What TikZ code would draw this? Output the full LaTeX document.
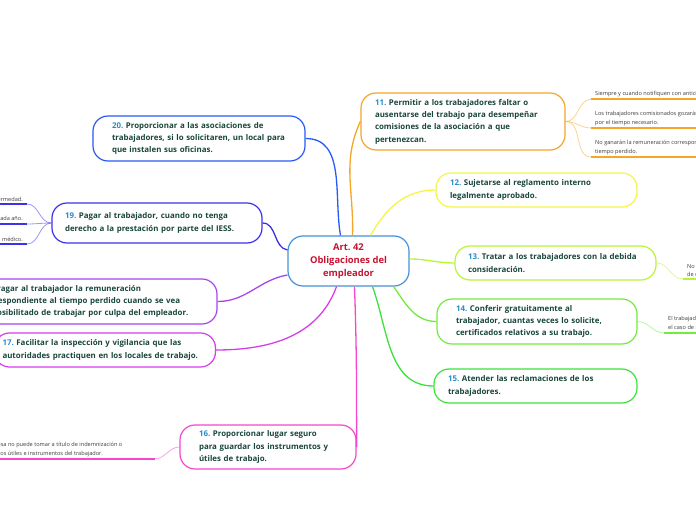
\documentclass[tikz,border=0pt]{standalone}
\usepackage{fontspec}
\setmainfont{Open Sans}
\usetikzlibrary{positioning}
\definecolor{artline}{RGB}{70,145,215}
\definecolor{artred}{RGB}{200,20,50}
\definecolor{txtgreen}{RGB}{25,70,60}
\definecolor{nroblue}{RGB}{40,140,200}
\definecolor{leafgray}{RGB}{60,60,60}
\definecolor{cXI}{RGB}{245,165,40}
\definecolor{cXII}{RGB}{245,245,70}
\definecolor{cXIII}{RGB}{185,245,50}
\definecolor{cXIV}{RGB}{115,235,60}
\definecolor{cXV}{RGB}{60,225,60}
\definecolor{cXVI}{RGB}{245,70,205}
\definecolor{cXVII}{RGB}{215,60,235}
\definecolor{cXVIII}{RGB}{165,70,240}
\definecolor{cXIX}{RGB}{60,50,235}
\definecolor{cXX}{RGB}{40,90,245}
\newcommand{\nro}[1]{{\color{nroblue}#1}}
\frenchspacing
\hyphenpenalty=10000

\begin{document}
\begin{tikzpicture}[x=1pt, y=1pt,
	box/.style={draw, rounded corners=15pt, line width=1.2pt, fill=white, align=left, text=txtgreen,
		font=\fontsize{7.9}{12.3}\selectfont\bfseries, inner ysep=0pt},
	leaf/.style={font=\fontsize{5.6}{8.6}\selectfont, text=leafgray, align=left, inner xsep=4pt, inner ysep=2pt},
	link/.style={line width=1.3pt},
	twig/.style={line width=0.8pt, opacity=0.5},
	uline/.style={line width=2pt}]
	\useasboundingbox (0,0) rectangle (696,520);
	% centre
	\node[box, draw=artline, text=artred, align=center, minimum width=121pt, minimum height=50pt,
		font=\fontsize{9.4}{13}\selectfont\bfseries] (art) at (348.5,259) {Art. 42\\Obligaciones del\\empleador};
	% right side
	\node[box, draw=cXI, text width=176pt, inner xsep=14pt, minimum height=57pt] (n11) at (463,398.5)
		{\nro{11.} Permitir a los trabajadores faltar o\\ausentarse del trabajo para desempeñar\\comisiones de la asociación a que\\pertenezcan.};
	\node[box, draw=cXII, text width=173pt, inner xsep=14pt, minimum height=34pt] (n12) at (536.5,330)
		{\nro{12.} Sujetarse al reglamento interno\\legalmente aprobado.};
	\node[box, draw=cXIII, text width=175pt, inner xsep=13pt, minimum height=34pt] (n13) at (555.5,257)
		{\nro{13.} Tratar a los trabajadores con la debida\\consideración.};
	\node[box, draw=cXIV, text width=162pt, inner xsep=19pt, minimum height=45pt] (n14) at (537,198.5)
		{\nro{14.} Conferir gratuitamente al\\trabajador, cuantas veces lo solicite,\\certificados relativos a su trabajo.};
	\node[box, draw=cXV, text width=175pt, inner xsep=14pt, minimum height=34pt] (n15) at (535.5,134)
		{\nro{15.} Atender las reclamaciones de los\\trabajadores.};
	% left side
	\node[box, draw=cXVI, text width=138pt, inner xsep=19pt, minimum height=44pt] (n16) at (268,73)
		{\nro{16.} Proporcionar lugar seguro\\para guardar los instrumentos y\\útiles de trabajo.};
	\node[box, draw=cXVII, text width=205pt, inner xsep=8pt, minimum height=34pt] (n17) at (105,170)
		{\nro{17.} Facilitar la inspección y vigilancia que las\\autoridades practiquen en los locales de trabajo.};
	\node[box, draw=cXVIII, text width=216pt, inner xsep=19pt, minimum height=45pt] (n18) at (90,218.5)
		{\nro{18.} Pagar al trabajador la remuneración\\correspondiente al tiempo perdido cuando se vea\\imposibilitado de trabajar por culpa del empleador.};
	\node[box, draw=cXIX, text width=184pt, inner xsep=13pt, minimum height=40pt] (n19) at (157,297)
		{\nro{19.} Pagar al trabajador, cuando no tenga\\derecho a la prestación por parte del IESS.};
	\node[box, draw=cXX, text width=174pt, inner xsep=19pt, minimum height=45pt] (n20) at (199,381.5)
		{\nro{20.} Proporcionar a las asociaciones de\\trabajadores, si lo solicitaren, un local para\\que instalen sus oficinas.};
	% main links
	\draw[link, cXX] ([xshift=-8pt]art.north) to[out=100, in=0] (n20.east);
	\draw[link, cXI] ([xshift=4pt]art.north) to[out=88, in=245] (n11.west);
	\draw[link, cXII] ([xshift=22pt]art.north) to[out=60, in=180] (n12.west);
	\draw[link, cXIII] ([yshift=2pt]art.east) to[out=0, in=180] (n13.west);
	\draw[link, cXIV] ([xshift=-16pt]art.south east) to[out=-55, in=180] (n14.west);
	\draw[link, cXV] ([xshift=24pt]art.south) to[out=-70, in=180] (n15.west);
	\draw[link, cXVI] ([xshift=6pt]art.south) to[out=-88, in=90] (n16.east);
	\draw[link, cXVII] ([xshift=-12pt]art.south) to[out=-110, in=0] (n17.east);
	\draw[link, cXVIII] ([yshift=-14pt]art.west) to[out=190, in=0] (n18.east);
	\draw[link, cXIX] ([yshift=11pt]art.west) to[out=170, in=0] (n19.east);
	% leaves of 11
	\node[leaf, anchor=south west] (l11a) at (591,420.7) {Siempre y cuando notifiquen con anticipación.};
	\node[leaf, anchor=south west] (l11b) at (591,392) {Los trabajadores comisionados gozarán de licencia\\por el tiempo necesario.};
	\node[leaf, anchor=south west] (l11c) at (591,363) {No ganarán la remuneración correspondiente al\\tiempo perdido.};
	\foreach \lf in {l11a,l11b,l11c}{
		\draw[uline, cXI] (\lf.south west) -- (\lf.south east);
		\draw[twig, cXI] (n11.east) to[out=0, in=180] (\lf.south west);
	}
	% leaf of 13
	\node[leaf, anchor=south west] (l13) at (683,241) {No infiriéndoles maltratos de palabra o\\de obra.};
	\draw[uline, cXIII] (l13.south west) -- (l13.south east);
	\draw[twig, cXIII] (n13.east) to[out=0, in=180] (l13.south west);
	% leaf of 14
	\node[leaf, anchor=south west] (l14) at (664,187) {El trabajador podrá pedirlo también en\\el caso de separarse definitivamente.};
	\draw[uline, cXIV] (l14.south west) -- (l14.south east);
	\draw[twig, cXIV] (n14.east) to[out=0, in=180] (l14.south west);
	% leaf of 16
	\node[leaf, anchor=south west] (l16) at (-28,61.3) {La empresa no puede tomar a título de indemnización o\\garantía los útiles e instrumentos del trabajador.};
	\coordinate (k16) at (155,61.3);
	\draw[uline, cXVI] (l16.south west) -- (k16);
	\draw[twig, cXVI] (k16) to[out=0, in=180] (n16.west);
	% leaves of 19
	\node[leaf, anchor=south east] (l19a) at (27,316) {50\% de su remuneración en caso de enfermedad.};
	\node[leaf, anchor=south east] (l19b) at (27,296) {Hasta por dos meses en cada año.};
	\node[leaf, anchor=south east] (l19c) at (27,276) {Previo certificado médico.};
	\foreach \lf in {l19a,l19b,l19c}{
		\draw[uline, cXIX] (\lf.south west) -- (\lf.south east);
		\draw[twig, cXIX] (\lf.south east) to[out=0, in=180] (n19.west);
	}
\end{tikzpicture}
\end{document}
